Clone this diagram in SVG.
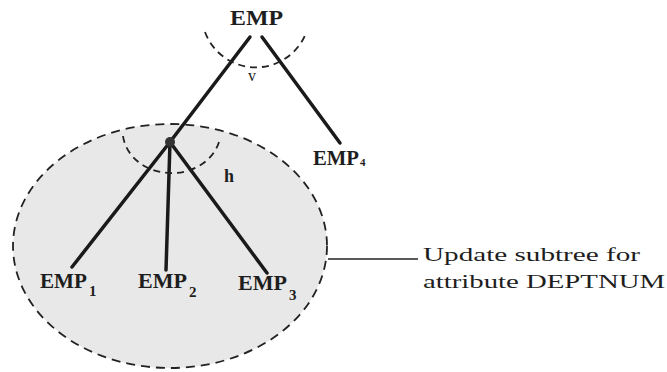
<svg xmlns="http://www.w3.org/2000/svg" width="667" height="372" viewBox="0 0 667 372">
<style>
.t{font-family:"Liberation Serif","Times New Roman",serif;fill:#1e1e1e}
.lbl{font-size:20px;font-weight:bold}
.sub{font-size:15px;font-weight:bold}
.edge{stroke:#1a1a1a;stroke-width:3.5;stroke-linecap:round;fill:none}
.dash{stroke:#222;stroke-width:1.8;stroke-dasharray:7 5;fill:none}
</style>
<rect width="667" height="372" fill="#ffffff"/>
<g id="subtree">
<ellipse cx="170" cy="246" rx="157" ry="122" fill="#e8e8e8" stroke="#222" stroke-width="1.8" stroke-dasharray="9 6"/>
</g>
<g id="connectors">
<line class="edge" x1="250" y1="37" x2="170" y2="142"/>
<line class="edge" x1="262" y1="37" x2="340" y2="143"/>
<line class="edge" x1="170" y1="142" x2="72" y2="267"/>
<line class="edge" x1="170" y1="142" x2="166" y2="270"/>
<line class="edge" x1="170" y1="142" x2="267" y2="273"/>
<path class="dash" d="M205,32 A54,54 0 0 0 306,33"/>
<path class="dash" d="M123,136 A49,42 0 0 0 220,138"/>
<line x1="328" y1="259" x2="418" y2="259" stroke="#222" stroke-width="1.5"/>
</g>
<g id="emp">
<text class="t lbl" x="230" y="25" font-size="22" textLength="53" lengthAdjust="spacingAndGlyphs">EMP</text>
<text class="t" x="248" y="81" font-size="16">v</text>
</g>
<g id="node">
<circle cx="170" cy="142" r="5" fill="#333"/>
<text class="t" x="224" y="182" font-size="18" font-weight="bold">h</text>
</g>
<g id="emp4">
<text class="t lbl" x="313" y="165" textLength="46" lengthAdjust="spacingAndGlyphs">EMP</text>
<text class="t" x="360" y="166" font-size="11" font-weight="bold">4</text>
</g>
<g id="emp1">
<text class="t lbl" x="40" y="288" textLength="47" lengthAdjust="spacingAndGlyphs">EMP</text>
<text class="t sub" x="89" y="296">1</text>
</g>
<g id="emp2">
<text class="t lbl" x="138" y="288" textLength="49" lengthAdjust="spacingAndGlyphs">EMP</text>
<text class="t sub" x="189" y="297">2</text>
</g>
<g id="emp3">
<text class="t lbl" x="238" y="290" textLength="49" lengthAdjust="spacingAndGlyphs">EMP</text>
<text class="t sub" x="289" y="300">3</text>
</g>
<g id="callout">
<text class="t" x="423" y="261" font-size="19" textLength="217" lengthAdjust="spacingAndGlyphs">Update subtree for</text>
<text class="t" x="423" y="288" font-size="19" textLength="242" lengthAdjust="spacingAndGlyphs">attribute DEPTNUM</text>
</g>
</svg>
